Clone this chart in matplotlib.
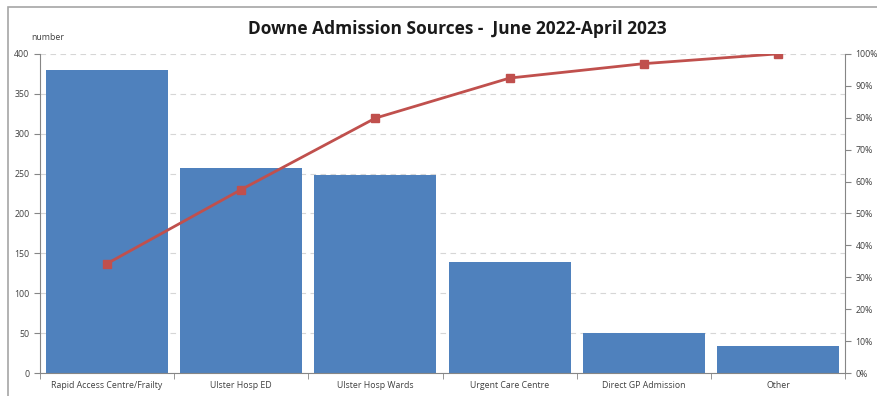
import numpy as np
import matplotlib.pyplot as plt
from matplotlib.patches import Rectangle

# data
categories = ['Rapid Access Centre/Frailty', 'Ulster Hosp ED', 'Ulster Hosp Wards',
              'Urgent Care Centre', 'Direct GP Admission', 'Other']
admissions = [380, 257, 248, 139, 50, 34]
left_ticks = [0, 50, 100, 150, 200, 250, 300, 350, 400]
pct_ticks = [0, 10, 20, 30, 40, 50, 60, 70, 80, 90, 100]

cum_pct = np.cumsum(admissions) / np.sum(admissions) * 100

plt.rcParams['font.family'] = ['Open Sans', 'DejaVu Sans']

fig = plt.figure(figsize=(8.77, 3.96), dpi=100)
# chart frame: left and top edges visible, the rest runs off the image
fig.patches.append(Rectangle((0.0091, -0.1), 1.2, 1.0823, transform=fig.transFigure,
                             fill=False, edgecolor='#a6a6a6', linewidth=1.2))

ax = fig.add_axes([0.0456, 0.058, 0.918, 0.806])
x = np.arange(len(categories))
ax.bar(x, admissions, width=0.91, color='#4F81BD', zorder=2)

ax.set_xlim(-0.5, len(categories) - 0.5)
ax.set_ylim(0, 400)
ax.set_yticks(left_ticks)
ax.yaxis.grid(True, linestyle=(0, (5, 4)), color='#d6d6d6', linewidth=0.8)
ax.set_axisbelow(True)

ax.set_xticks(x)
ax.set_xticklabels(categories, fontsize=6.3, color='#404040')
ax.tick_params(axis='x', which='major', length=0, pad=6)
ax.set_xticks(np.arange(-0.5, len(categories)), minor=True)
ax.tick_params(axis='x', which='minor', length=4, color='#868686')
ax.tick_params(axis='y', labelsize=6.3, labelcolor='#404040', length=4, color='#868686')

for s in ['top', 'right']:
    ax.spines[s].set_visible(False)
for s in ['left', 'bottom']:
    ax.spines[s].set_color('#868686')

ax2 = ax.twinx()
ax2.plot(x, cum_pct, color='#C0504D', linewidth=2, marker='s', markersize=5.5, zorder=3)
ax2.set_ylim(0, 100)
ax2.set_yticks(pct_ticks)
ax2.set_yticklabels([f'{p}%' for p in pct_ticks])
ax2.tick_params(axis='y', labelsize=6.3, labelcolor='#404040', length=4, color='#868686')
for s in ['top', 'left', 'bottom']:
    ax2.spines[s].set_visible(False)
ax2.spines['right'].set_color('#868686')

fig.text(0.036, 0.898, 'number', fontsize=6.3, color='#404040')
fig.text(0.521, 0.928, 'Downe Admission Sources -  June 2022-April 2023', ha='center',
         va='center', fontsize=12.5, fontweight='bold', color='#1a1a1a')

fig.savefig('out.png', dpi=100)
